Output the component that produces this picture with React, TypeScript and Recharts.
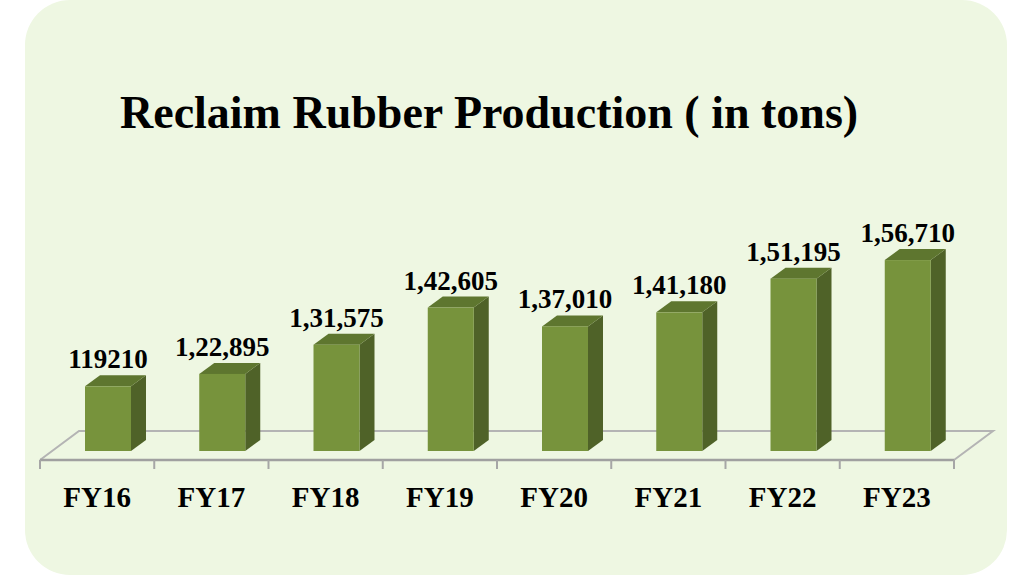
import React from 'react';
import { BarChart, Bar, XAxis, YAxis, LabelList, usePlotArea } from 'recharts';

const categories = ['FY16', 'FY17', 'FY18', 'FY19', 'FY20', 'FY21', 'FY22', 'FY23'];
const production = [119210, 122895, 131575, 142605, 137010, 141180, 151195, 156710];
const valueLabels = ['119210', '1,22,895', '1,31,575', '1,42,605', '1,37,010', '1,41,180', '1,51,195', '1,56,710'];
const title = 'Reclaim Rubber Production ( in tons)';

const data = categories.map((c, i) => ({ name: c, value: production[i], label: valueLabels[i] }));

const FONT = '"Liberation Serif", "Times New Roman", serif';
const FRONT = '#77933C';
const SIDE = '#4F6228';
const TOP = '#5E762F';
const SHIFT = 11;
const DX = 15;
const DY = 11;

const Bar3D = (props: any) => {
  const { x, y, width, height } = props;
  if (height == null || width == null) return null;
  const fx = x + SHIFT;
  const top = `${fx},${y} ${fx + DX},${y - DY} ${fx + width + DX},${y - DY} ${fx + width},${y}`;
  const side = `${fx + width},${y} ${fx + width + DX},${y - DY} ${fx + width + DX},${y + height - DY} ${fx + width},${y + height}`;
  return (
    <g>
      <polygon points={side} fill={SIDE} />
      <polygon points={top} fill={TOP} />
      <rect x={fx} y={y} width={width} height={height} fill={FRONT} />
    </g>
  );
};

const Floor = () => {
  const area: any = usePlotArea ? usePlotArea() : null;
  if (!area) return null;
  const left = area.x;
  const right = area.x + area.width;
  const bottom = area.y + area.height;
  const frontY = bottom + 9;
  const backY = bottom - 20;
  const back = 39;
  const band = area.width / categories.length;
  const ticks = [];
  for (let i = 0; i <= categories.length; i++) {
    const tx = left + band * i;
    ticks.push(<line key={i} x1={tx} x2={tx} y1={frontY} y2={frontY + 9} stroke="#A6A6A6" strokeWidth={2} />);
  }
  return (
    <g>
      <polyline
        points={`${left},${frontY} ${left + back},${backY} ${right + back},${backY} ${right},${frontY}`}
        fill="none"
        stroke="#B4B4B4"
        strokeWidth={2}
      />
      <line x1={left} x2={right} y1={frontY} y2={frontY} stroke="#A0A0A0" strokeWidth={2.5} />
      {ticks}
    </g>
  );
};

const Tick = (props: any) => {
  const { x, payload } = props;
  return (
    <text x={x} y={507} textAnchor="middle" fontFamily={FONT} fontWeight="bold" fontSize={29} fill="#000">
      {payload.value}
    </text>
  );
};

const ValueLabel = (props: any) => {
  const { x, y, width, index } = props;
  return (
    <text x={x + width / 2 + SHIFT} y={y - 18} textAnchor="middle" fontFamily={FONT} fontWeight="bold" fontSize={27} fill="#000">
      {valueLabels[index]}
    </text>
  );
};

export default function App() {
  return (
    <div style={{ position: 'fixed', left: 0, top: 0, width: 1024, height: 575, background: '#fff', overflow: 'hidden' }}>
      <div
        style={{
          position: 'absolute',
          left: 25,
          top: 0,
          width: 982,
          height: 575,
          background: '#EEF7E2',
          borderRadius: 45,
        }}
      />
      <div
        style={{
          position: 'absolute',
          left: 120,
          top: 90,
          fontFamily: FONT,
          fontWeight: 'bold',
          fontSize: 46,
          lineHeight: '46px',
          color: '#000',
          whiteSpace: 'nowrap',
        }}
      >
        {title}
      </div>
      <div style={{ position: 'absolute', left: 0, top: 0 }}>
        <BarChart width={1024} height={575} data={data} margin={{ top: 249, right: 70, bottom: 84, left: 40 }}>
          <Floor />
          <XAxis dataKey="name" height={40} axisLine={false} tickLine={false} tick={<Tick />} interval={0} />
          <YAxis hide domain={[100000, 160000]} allowDataOverflow />
          <Bar dataKey="value" barSize={46} shape={<Bar3D />} isAnimationActive={false}>
            <LabelList dataKey="label" content={<ValueLabel />} />
          </Bar>
        </BarChart>
      </div>
    </div>
  );
}
